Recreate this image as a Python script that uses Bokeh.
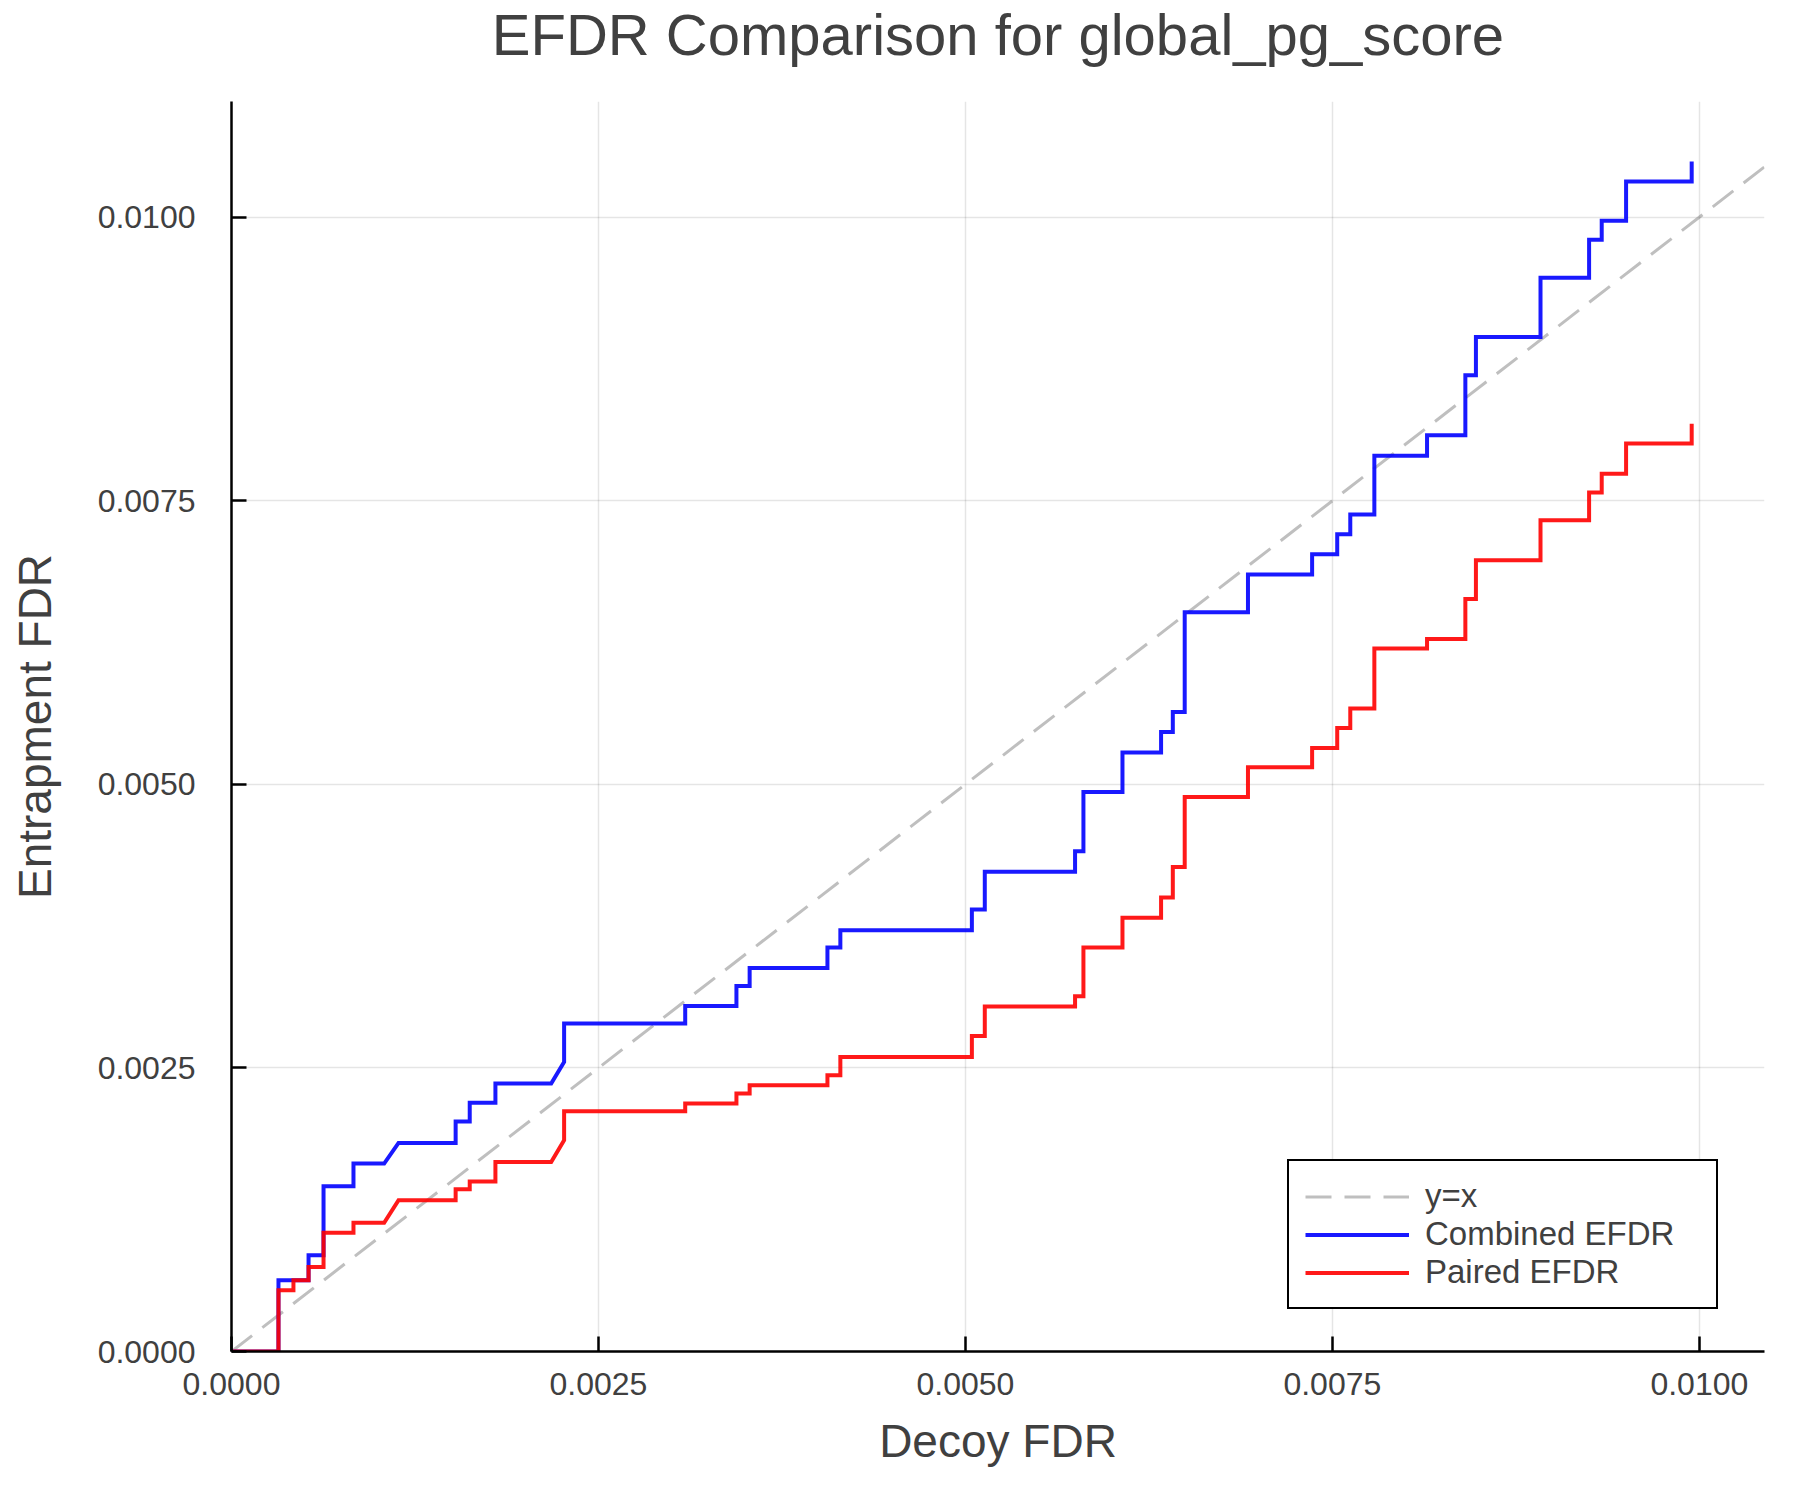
from bokeh.plotting import figure
from bokeh.models import Range1d, FixedTicker, Legend, LegendItem, PrintfTickFormatter, Title
from bokeh.embed import file_html
from bokeh.resources import INLINE

title_text = "EFDR Comparison for global_pg_score"
x_label = "Decoy FDR"
y_label = "Entrapment FDR"
tick_values = [0.0, 0.0025, 0.005, 0.0075, 0.01]
x_limits = [0.0, 0.010444]
y_limits = [0.0, 0.01102]
series_names = ["y=x", "Combined EFDR", "Paired EFDR"]

decoy_fdr = [
    0.0, 0.00032, 0.00032, 0.000422, 0.000422, 0.000525, 0.000525, 0.000627,
    0.000627, 0.000831, 0.000831, 0.00104, 0.001138, 0.001527, 0.001527, 0.001623,
    0.001623, 0.001798, 0.001798, 0.002178, 0.002266, 0.002266, 0.003091, 0.003091,
    0.00344, 0.00344, 0.00353, 0.00353, 0.00406, 0.00406, 0.004148, 0.004148,
    0.005044, 0.005044, 0.005132, 0.005132, 0.005747, 0.005747, 0.005804, 0.005804,
    0.00607, 0.00607, 0.006333, 0.006333, 0.006413, 0.006413, 0.006494, 0.006494,
    0.006925, 0.006925, 0.007362, 0.007362, 0.007533, 0.007533, 0.007622, 0.007622,
    0.007786, 0.007786, 0.008145, 0.008145, 0.008406, 0.008406, 0.008478, 0.008478,
    0.008918, 0.008918, 0.009249, 0.009249, 0.009335, 0.009335, 0.009501, 0.009501,
    0.009948, 0.009948,
]
combined_efdr = [
    0.0, 0.0, 0.000628, 0.000628, 0.000628, 0.000628, 0.000849, 0.000849,
    0.001457, 0.001457, 0.001657, 0.001657, 0.001839, 0.001839, 0.002028, 0.002028,
    0.002194, 0.002194, 0.002362, 0.002362, 0.002553, 0.002891, 0.002891, 0.003046,
    0.003046, 0.003222, 0.003222, 0.003381, 0.003381, 0.003561, 0.003561, 0.003713,
    0.003713, 0.003896, 0.003896, 0.00423, 0.00423, 0.00441, 0.00441, 0.004933,
    0.004933, 0.00528, 0.00528, 0.005461, 0.005461, 0.005638, 0.005638, 0.006517,
    0.006517, 0.006849, 0.006849, 0.007028, 0.007028, 0.007204, 0.007204, 0.007378,
    0.007378, 0.007898, 0.007898, 0.008077, 0.008077, 0.008607, 0.008607, 0.008943,
    0.008943, 0.009467, 0.009467, 0.009802, 0.009802, 0.009969, 0.009969, 0.010315,
    0.010315, 0.010492,
]
paired_efdr = [
    0.0, 0.0, 0.00054, 0.00054, 0.000628, 0.000628, 0.000746, 0.000746,
    0.001046, 0.001046, 0.001134, 0.001134, 0.001334, 0.001334, 0.00143, 0.00143,
    0.001498, 0.001498, 0.001671, 0.001671, 0.001862, 0.002118, 0.002118, 0.002186,
    0.002186, 0.002274, 0.002274, 0.002347, 0.002347, 0.002435, 0.002435, 0.002597,
    0.002597, 0.002782, 0.002782, 0.003041, 0.003041, 0.003132, 0.003132, 0.003561,
    0.003561, 0.003825, 0.003825, 0.004002, 0.004002, 0.004272, 0.004272, 0.004889,
    0.004889, 0.005151, 0.005151, 0.00532, 0.00532, 0.005497, 0.005497, 0.005668,
    0.005668, 0.006197, 0.006197, 0.006281, 0.006281, 0.006634, 0.006634, 0.006975,
    0.006975, 0.007328, 0.007328, 0.007572, 0.007572, 0.007739, 0.007739, 0.008004,
    0.008004, 0.00818,
]

FONT = "Liberation Sans"
TEXT = "#404040"

p = figure(width=1784, height=1484, output_backend="svg", toolbar_location=None,
           x_range=Range1d(x_limits[0], x_limits[1]),
           y_range=Range1d(y_limits[0], y_limits[1]),
           min_border_left=231, min_border_right=20, min_border_top=101,
           min_border_bottom=133)
p.outline_line_color = None
p.background_fill_color = "white"
p.border_fill_color = "white"

p.title.text = title_text
p.title.align = "center"
p.title.vertical_align = "top"
p.title.text_font = FONT
p.title.text_font_size = "58px"
p.title.text_font_style = "normal"
p.title.text_color = TEXT
p.title.standoff = 0

# blank spacer between the title and the plot frame
spacer = Title(text=" ", text_font_size="10px", standoff=20)
p.add_layout(spacer, "above")

for ax, lab in ((p.xaxis[0], x_label), (p.yaxis[0], y_label)):
    ax.axis_label = lab
    ax.ticker = FixedTicker(ticks=tick_values)
    ax.formatter = PrintfTickFormatter(format="%.4f")
    ax.axis_line_color = "black"
    ax.axis_line_width = 2.5
    ax.major_tick_line_color = "black"
    ax.major_tick_line_width = 2.5
    ax.major_tick_in = 15
    ax.major_tick_out = 0
    ax.minor_tick_in = 0
    ax.minor_tick_out = 0
    ax.major_label_text_font = FONT
    ax.major_label_text_font_size = "32px"
    ax.major_label_text_color = TEXT
    ax.axis_label_text_font = FONT
    ax.axis_label_text_font_size = "46px"
    ax.axis_label_text_font_style = "normal"
    ax.axis_label_text_color = TEXT

p.xaxis[0].major_label_standoff = 21
p.xaxis[0].axis_label_standoff = 17
p.yaxis[0].major_label_standoff = 36
p.yaxis[0].axis_label_standoff = 34

for g in (p.xgrid[0], p.ygrid[0]):
    g.ticker = FixedTicker(ticks=tick_values)
    g.grid_line_color = "black"
    g.grid_line_alpha = 0.1
    g.grid_line_width = 1.5

diag = [x_limits[0], x_limits[1]]
r_diag = p.line(diag, diag, line_color="gray", line_alpha=0.5, line_width=3,
                line_dash="26 13")
r_blue = p.line(decoy_fdr, combined_efdr, line_color="blue", line_alpha=0.9,
                line_width=4, line_join="miter")
r_red = p.line(decoy_fdr, paired_efdr, line_color="red", line_alpha=0.9,
               line_width=4, line_join="miter")

legend = Legend(items=[LegendItem(label=series_names[0], renderers=[r_diag]),
                       LegendItem(label=series_names[1], renderers=[r_blue]),
                       LegendItem(label=series_names[2], renderers=[r_red])],
                location=(1056, 42))
legend.border_line_color = "black"
legend.border_line_alpha = 1.0
legend.border_line_width = 2.5
legend.background_fill_color = "white"
legend.background_fill_alpha = 1.0
legend.padding = 16
legend.spacing = 0
legend.margin = 0
legend.label_height = 37
legend.glyph_height = 37
legend.glyph_width = 104
legend.label_width = 275
legend.label_standoff = 16
legend.label_text_font = FONT
legend.label_text_font_size = "33px"
legend.label_text_color = TEXT
p.add_layout(legend)

open("out.html", "w").write(file_html(p, INLINE))
